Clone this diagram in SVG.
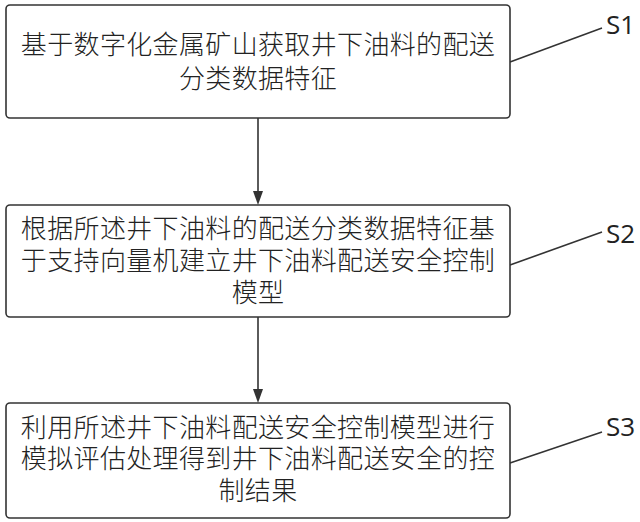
<svg xmlns="http://www.w3.org/2000/svg" width="640" height="522" viewBox="0 0 640 522">
<style>
.box{fill:#fff;stroke:#333;stroke-width:1.6}
.t{font-family:"Noto Sans CJK SC","Noto Sans",sans-serif;font-size:26px;font-weight:300;fill:#222;text-anchor:middle;letter-spacing:0.35px}
.s{font-family:"Open Sans","Noto Sans",sans-serif;font-size:26px;fill:#222}
.ln{stroke:#333;stroke-width:1.6;fill:none}
.ah{fill:#333}
</style>
<rect width="640" height="522" fill="#fff"/>
<g id="connectors">
<path class="ln" d="M258,118 L258,191"/>
<path class="ah" d="M253,191 L263,191 L258,205 Z"/>
<path class="ln" d="M258,317 L258,389"/>
<path class="ah" d="M253,389 L263,389 L258,403 Z"/>
<path class="ln" d="M510,62 L602,28"/>
<path class="ln" d="M510,265 L602,232"/>
<path class="ln" d="M510,463 L602,432"/>
</g>
<g id="S1">
<rect class="box" x="6" y="5" width="504" height="113" rx="4"/>
<text class="t" x="258" y="54">基于数字化金属矿山获取井下油料的配送</text>
<text class="t" x="258" y="88">分类数据特征</text>
<text class="s" x="606" y="34">S1</text>
</g>
<g id="S2">
<rect class="box" x="6" y="205" width="504" height="112" rx="4"/>
<text class="t" x="258" y="238">根据所述井下油料的配送分类数据特征基</text>
<text class="t" x="258" y="270">于支持向量机建立井下油料配送安全控制</text>
<text class="t" x="258" y="302">模型</text>
<text class="s" x="606" y="243">S2</text>
</g>
<g id="S3">
<rect class="box" x="6" y="403" width="504" height="115" rx="4"/>
<text class="t" x="258" y="437">利用所述井下油料配送安全控制模型进行</text>
<text class="t" x="258" y="468">模拟评估处理得到井下油料配送安全的控</text>
<text class="t" x="258" y="500">制结果</text>
<text class="s" x="606" y="436">S3</text>
</g>
</svg>
